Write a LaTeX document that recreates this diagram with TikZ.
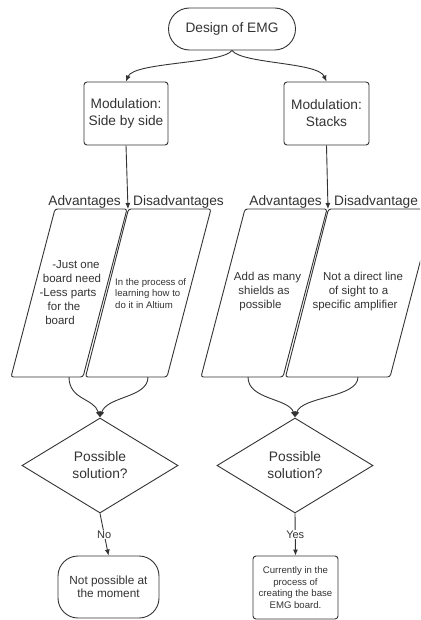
\documentclass[tikz,border=0pt]{standalone}
\usepackage{fontspec}
\setmainfont{Liberation Sans}
\usetikzlibrary{shapes.geometric,arrows.meta}
\definecolor{ink}{HTML}{333333}
\begin{document}
\begin{tikzpicture}[x=1pt,y=-1pt,
  every node/.style={text=ink},
  line/.style={draw=ink, line width=0.9pt},
  arr/.style={line, -{Latex[length=6pt,width=5pt]}},
  term/.style={line, rectangle, rounded corners=21pt, minimum width=127pt, minimum height=42pt, inner sep=0pt, align=center, font=\fontsize{13.7}{16}\selectfont},
  box/.style={line, rectangle, rounded corners=3pt, inner sep=0pt, align=center},
  dec/.style={line, diamond, minimum width=156pt, minimum height=95pt, inner sep=0pt, align=center, font=\fontsize{13.8}{17}\selectfont},
  para/.style={line, rounded corners=2.5pt},
  head/.style={font=\fontsize{13.7}{16}\selectfont, inner sep=0pt},
  ptext/.style={font=\fontsize{11.5}{14}\selectfont, align=center, inner sep=0pt},
  smalltext/.style={font=\fontsize{9.6}{11.5}\selectfont, inner sep=0pt},
  lbl/.style={fill=white, inner sep=1pt, font=\fontsize{11}{13}\selectfont}
]
\clip (0,0) rectangle (420,620);
\fill[white] (0,0) rectangle (420,620);

% top
\node[term] (top) at (232,29) {Design of EMG};
\node[box, minimum width=84pt, minimum height=63pt, font=\fontsize{13.7}{17}\selectfont] (side) at (126,113.5) {Modulation:\\Side by side};
\node[box, minimum width=85pt, minimum height=63pt, font=\fontsize{13.7}{17}\selectfont] (stack) at (326.5,113.5) {Modulation:\\Stacks};

% parallelograms
\draw[para] (55,209) -- (127,209) -- (83,377) -- (11,377) -- cycle;
\draw[para] (128.5,209) -- (211,209) -- (167,377) -- (85.5,377) -- cycle;
\draw[para] (245,209) -- (327,209) -- (283,377) -- (201,377) -- cycle;
\draw[para] (328.5,209) -- (434,209) -- (390,377) -- (285.5,377) -- cycle;

\coordinate (sp1) at (128,209);
\coordinate (sp2) at (328,209);
\coordinate (la) at (69,377);
\coordinate (ld) at (148,377);
\coordinate (ra) at (248,377);
\coordinate (rd) at (358,377);

% headings
\node[head, anchor=base east] (adv1) at (121,206) {Advantages};
\node[head, anchor=base west] (dis1) at (133,206) {Disadvantages};
\node[head, anchor=base east] (adv2) at (322,206) {Advantages};
\node[head, anchor=base west] (dis2) at (334,206) {Disadvantage};

% parallelogram texts
\node[ptext] (t1) at (68,292.5) {\hspace*{16pt}-Just one\\\hspace*{8pt}board need\\-Less parts\\for the\hspace*{8pt}\mbox{}\\board\hspace*{16pt}\mbox{}};
\node[smalltext, align=left, anchor=west] (t2) at (115,293.5) {In the process of\\learning how to\\do it in Altium};
\node[ptext] (t3) at (264,292) {\hspace*{7pt}Add as many\\shields as\\possible\hspace*{7pt}\mbox{}};
\node[ptext] (t4) at (358.5,292) {\hspace*{9pt}Not a direct line\\of sight to a\\specific amplifier\hspace*{7pt}\mbox{}};

% decisions
\node[dec] (d1) at (100,465.5) {Possible\\solution?};
\node[dec] (d2) at (295,465.5) {Possible\\solution?};

% results
\node[term, minimum width=101pt, minimum height=62pt, rounded corners=20pt, font=\fontsize{11.8}{13.5}\selectfont] (np) at (108.5,587) {Not possible at\\the moment};
\node[box, minimum width=85pt, minimum height=63pt, font=\fontsize{9.6}{11.5}\selectfont] (cur) at (295.5,587.5) {Currently in the\\process of\\creating the base\\EMG board.};

% connectors
\draw[arr] (top.south) .. controls (222,64) and (134,62) .. (side.north);
\draw[arr] (top.south) .. controls (242,64) and (318,62) .. (stack.north);
\draw[arr] (side.south) -- (sp1);
\draw[arr] (stack.south) -- (sp2);
\draw[arr] (la) .. controls (69,400) and (94,398) .. (d1.north);
\draw[arr] (ld) .. controls (148,398) and (107,396) .. (d1.north);
\draw[arr] (ra) .. controls (248,400) and (289,398) .. (d2.north);
\draw[arr] (rd) .. controls (358,398) and (302,396) .. (d2.north);
\draw[arr] (d1.south) -- node[lbl] (no) {No} (np.north);
\draw[arr] (d2.south) -- node[lbl] (yes) {Yes} (cur.north);
\end{tikzpicture}
\end{document}
